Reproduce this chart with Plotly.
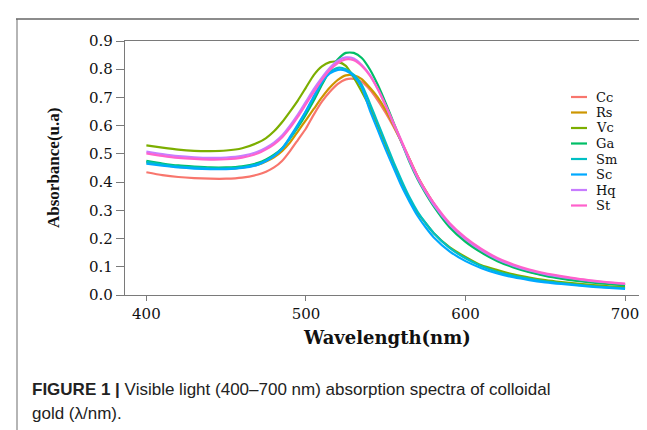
import plotly.graph_objects as go

wavelength = [400, 410, 420, 430, 440, 450, 460, 470, 475, 480, 485, 490, 495, 500, 505, 510,
              515, 520, 525, 530, 535, 540, 545, 550, 555, 560, 565, 570, 575, 580, 590, 600,
              610, 620, 630, 640, 650, 660, 670, 680, 690, 700]

Cc = [.435, .425, .418, .414, .412, .412, .416, .427, .437, .452, .475, .51, .55, .59, .64, .685,
      .72, .748, .764, .766, .755, .728, .69, .645, .595, .54, .48, .42, .37, .325, .25, .197,
      .158, .127, .104, .087, .074, .064, .055, .048, .042, .037]
Rs = [.47, .461, .454, .45, .447, .447, .451, .462, .473, .488, .51, .54, .58, .62, .66, .70,
      .735, .762, .778, .778, .765, .735, .70, .655, .60, .54, .48, .42, .37, .325, .25, .195,
      .155, .124, .101, .083, .07, .06, .052, .046, .04, .036]
Vc = [.530, .522, .515, .511, .510, .512, .520, .540, .556, .58, .612, .65, .69, .735, .78, .81,
      .825, .826, .812, .77, .72, .665, .60, .53, .46, .395, .335, .29, .255, .22, .17, .135,
      .105, .088, .073, .062, .053, .046, .04, .035, .031, .028]
Ga = [.475, .466, .459, .455, .452, .452, .456, .468, .48, .497, .52, .555, .595, .64, .69, .745,
      .795, .835, .858, .858, .84, .80, .745, .68, .61, .54, .47, .41, .36, .315, .24, .188,
      .15, .12, .098, .081, .068, .058, .05, .044, .039, .034]
Sm = [.472, .463, .456, .452, .449, .449, .453, .465, .477, .494, .518, .555, .60, .65, .70, .752,
      .79, .805, .80, .78, .745, .68, .61, .54, .47, .405, .345, .295, .255, .22, .167, .13,
      .102, .082, .068, .057, .048, .042, .036, .031, .027, .024]
Sc = [.465, .458, .452, .448, .446, .446, .450, .462, .475, .492, .518, .56, .605, .652, .705, .755,
      .785, .798, .795, .775, .735, .655, .585, .515, .45, .385, .33, .28, .24, .205, .155, .12,
      .095, .076, .063, .053, .045, .039, .034, .029, .025, .022]
Hq = [.508, .499, .492, .488, .486, .487, .493, .508, .522, .54, .565, .60, .64, .685, .73, .77,
      .805, .83, .842, .838, .815, .78, .73, .67, .605, .54, .475, .415, .365, .32, .25, .198,
      .158, .127, .104, .087, .074, .064, .056, .049, .044, .039]
St = [.502, .493, .486, .482, .480, .481, .487, .502, .516, .534, .558, .592, .632, .676, .72, .762,
      .797, .822, .835, .832, .812, .778, .73, .672, .608, .545, .48, .42, .37, .327, .255, .203,
      .163, .131, .108, .09, .077, .067, .058, .051, .045, .04]

series_names = ["Cc", "Rs", "Vc", "Ga", "Sm", "Sc", "Hq", "St"]
series_values = [Cc, Rs, Vc, Ga, Sm, Sc, Hq, St]
colors = ["#F8766D", "#CD9600", "#7CAE00", "#00BE67", "#00BFC4", "#00A9FF", "#C77CFF", "#FF61CC"]

x_ticks = [400, 500, 600, 700]
y_ticks = [0.0, 0.1, 0.2, 0.3, 0.4, 0.5, 0.6, 0.7, 0.8, 0.9]

fig = go.Figure()
for name, vals, col in zip(series_names, series_values, colors):
    fig.add_trace(go.Scatter(x=wavelength, y=vals, mode="lines", name=name,
                             line=dict(color=col, width=2.2, shape="spline", smoothing=0.6),
                             showlegend=False))

W, H = 647, 430
L, R, T, B = 117, 6, 33, 143
pw, ph = W - L - R, H - T - B

def px_x(px):
    return (px - L) / pw

def px_y(py):
    return (H - B - py) / ph

axis_col = "#7a7a7a"
fig.update_xaxes(range=[386.6, 715], tickvals=x_ticks, ticks="outside", ticklen=5,
                 tickcolor=axis_col, showline=True, linecolor=axis_col, linewidth=1.2,
                 mirror=True, showgrid=False, zeroline=False,
                 tickfont=dict(family="DejaVu Serif", size=15, color="#111"))
fig.update_yaxes(range=[0, 0.9], tickvals=y_ticks, tickformat=".1f", ticks="outside", ticklen=8,
                 tickcolor=axis_col, showline=True, linecolor=axis_col, linewidth=1.2,
                 mirror=True, showgrid=False, zeroline=False,
                 tickfont=dict(family="DejaVu Serif", size=15, color="#111"))

annotations = [
    dict(text="<b>Absorbance(u.a)</b>", textangle=-90, x=px_x(45), y=0.5, xref="paper", yref="paper",
         xanchor="center", yanchor="middle", showarrow=False,
         font=dict(family="Liberation Serif", size=17, color="#111")),
    dict(text="<b>Wavelength(nm)</b>", x=0.5, y=px_y(329), xref="paper", yref="paper",
         xanchor="center", yanchor="middle", showarrow=False,
         font=dict(family="DejaVu Serif", size=18, color="#111")),
    dict(text="<b>FIGURE 1 |</b> Visible light (400–700 nm) absorption spectra of colloidal",
         x=px_x(22), y=px_y(381), xref="paper", yref="paper", xanchor="left", yanchor="middle",
         showarrow=False, font=dict(family="Liberation Sans", size=17, color="#222")),
    dict(text="gold (λ/nm).", x=px_x(22), y=px_y(405), xref="paper", yref="paper", xanchor="left",
         yanchor="middle", showarrow=False,
         font=dict(family="Liberation Sans", size=17, color="#222")),
]
shapes = [
    dict(type="line", xref="paper", yref="paper", x0=px_x(9), x1=px_x(9), y0=px_y(11), y1=px_y(430),
         line=dict(color="#b5b5b5", width=2)),
    dict(type="line", xref="paper", yref="paper", x0=px_x(8), x1=px_x(647), y0=px_y(11), y1=px_y(11),
         line=dict(color="#666666", width=1.5)),
]
for i, (name, col) in enumerate(zip(series_names, colors)):
    yy = px_y(89 + i * 15.5)
    shapes.append(dict(type="line", xref="paper", yref="paper", x0=px_x(563), x1=px_x(579),
                       y0=yy, y1=yy, line=dict(color=col, width=2.2)))
    annotations.append(dict(text=name, x=px_x(586), y=yy, xref="paper", yref="paper",
                            xanchor="left", yanchor="middle", showarrow=False,
                            font=dict(family="DejaVu Serif", size=13, color="#111")))

fig.update_layout(width=W, height=H, margin=dict(l=L, r=R, t=T, b=B),
                  paper_bgcolor="white", plot_bgcolor="white",
                  annotations=annotations, shapes=shapes, showlegend=False)

fig.write_html("out.html")
